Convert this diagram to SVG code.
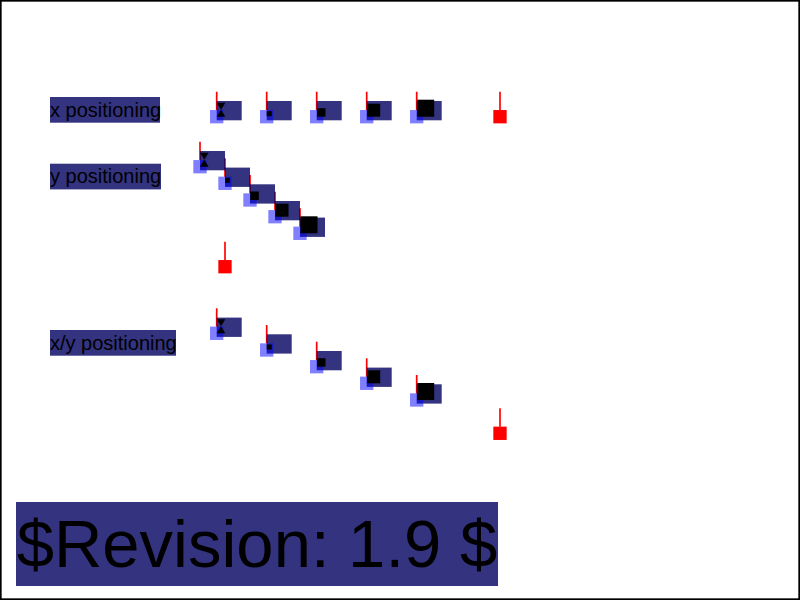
<svg xmlns="http://www.w3.org/2000/svg" width="800" height="600" viewBox="0 0 800 600">
<style>
.bg{fill:#000060;fill-opacity:0.8}
.lb{fill:#0000ff;fill-opacity:0.5}
.rl{stroke:#ff0000;stroke-width:1.67;fill:none}
.rm{fill:#ff0000}
.gl{fill:#000000}
.lab{font-family:"Liberation Sans",Arial,sans-serif;font-size:20px;fill:#000}
.rev{font-family:"Liberation Sans",Arial,sans-serif;font-size:67px;fill:#000}
</style>
<defs>
<line id="tick" class="rl" x1="0" y1="-25" x2="0" y2="-6.67"/>
<rect id="cell" class="bg" x="0" y="-15.7" width="25" height="19.3"/>
<rect id="orig" class="lb" x="-6.67" y="-6.67" width="13.33" height="13.33"/>
<g id="mark"><line class="rl" x1="0" y1="-25" x2="0" y2="-6.67"/><rect class="rm" x="-6.67" y="-6.67" width="13.33" height="13.33"/></g>
<polygon id="g1" class="gl" points="0,-14 8.6,-14 4.3,-7 8.6,0 0,0 4.3,-7"/>
<rect id="g2" class="gl" x="0" y="-5.5" width="5" height="5"/>
<rect id="g3" class="gl" x="0.3" y="-8.5" width="8.5" height="8.5"/>
<rect id="g4" class="gl" x="0.5" y="-13" width="13" height="13"/>
<rect id="g5" class="gl" x="0.5" y="-17" width="17" height="17"/>
</defs>
<rect x="0.83" y="0.83" width="798.33" height="598.33" fill="#fff" stroke="#000" stroke-width="1.67"/>

<g id="row-x">
<rect class="bg" x="50" y="97" width="110" height="25.7"/>
<text class="lab" x="50" y="116.7">x positioning</text>
<use href="#tick" x="216.7" y="116.7"/><use href="#tick" x="266.7" y="116.7"/><use href="#tick" x="316.7" y="116.7"/><use href="#tick" x="366.7" y="116.7"/><use href="#tick" x="416.7" y="116.7"/>
<use href="#cell" x="216.7" y="116.7"/><use href="#cell" x="266.7" y="116.7"/><use href="#cell" x="316.7" y="116.7"/><use href="#cell" x="366.7" y="116.7"/><use href="#cell" x="416.7" y="116.7"/>
<use href="#orig" x="216.7" y="116.7"/><use href="#orig" x="266.7" y="116.7"/><use href="#orig" x="316.7" y="116.7"/><use href="#orig" x="366.7" y="116.7"/><use href="#orig" x="416.7" y="116.7"/>
<use href="#g1" x="216.7" y="116.7"/><use href="#g2" x="266.7" y="116.7"/><use href="#g3" x="316.7" y="116.7"/><use href="#g4" x="366.7" y="116.7"/><use href="#g5" x="416.7" y="116.7"/>
<use href="#mark" x="500" y="116.7"/>
</g>

<g id="row-y">
<rect class="bg" x="50" y="163.7" width="111" height="25.7"/>
<text class="lab" x="50" y="183.3">y positioning</text>
<use href="#tick" x="200" y="166.7"/><use href="#tick" x="225" y="183.3"/><use href="#tick" x="250" y="200"/><use href="#tick" x="275" y="216.7"/><use href="#tick" x="300" y="233.3"/>
<use href="#cell" x="200" y="166.7"/><use href="#cell" x="225" y="183.3"/><use href="#cell" x="250" y="200"/><use href="#cell" x="275" y="216.7"/><use href="#cell" x="300" y="233.3"/>
<use href="#orig" x="200" y="166.7"/><use href="#orig" x="225" y="183.3"/><use href="#orig" x="250" y="200"/><use href="#orig" x="275" y="216.7"/><use href="#orig" x="300" y="233.3"/>
<use href="#g1" x="200" y="166.7"/><use href="#g2" x="225" y="183.3"/><use href="#g3" x="250" y="200"/><use href="#g4" x="275" y="216.7"/><use href="#g5" x="300" y="233.3"/>
<use href="#mark" x="225" y="266.7"/>
</g>

<g id="row-xy">
<rect class="bg" x="50" y="330" width="126" height="25.7"/>
<text class="lab" x="50" y="350">x/y positioning</text>
<use href="#tick" x="216.7" y="333.3"/><use href="#tick" x="266.7" y="350"/><use href="#tick" x="316.7" y="366.7"/><use href="#tick" x="366.7" y="383.3"/><use href="#tick" x="416.7" y="400"/>
<use href="#cell" x="216.7" y="333.3"/><use href="#cell" x="266.7" y="350"/><use href="#cell" x="316.7" y="366.7"/><use href="#cell" x="366.7" y="383.3"/><use href="#cell" x="416.7" y="400"/>
<use href="#orig" x="216.7" y="333.3"/><use href="#orig" x="266.7" y="350"/><use href="#orig" x="316.7" y="366.7"/><use href="#orig" x="366.7" y="383.3"/><use href="#orig" x="416.7" y="400"/>
<use href="#g1" x="216.7" y="333.3"/><use href="#g2" x="266.7" y="350"/><use href="#g3" x="316.7" y="366.7"/><use href="#g4" x="366.7" y="383.3"/><use href="#g5" x="416.7" y="400"/>
<use href="#mark" x="500" y="433.3"/>
</g>

<g id="revision">
<rect class="bg" x="16" y="502" width="482" height="84"/>
<text class="rev" x="16.7" y="567">$Revision: 1.9 $</text>
</g>
</svg>
